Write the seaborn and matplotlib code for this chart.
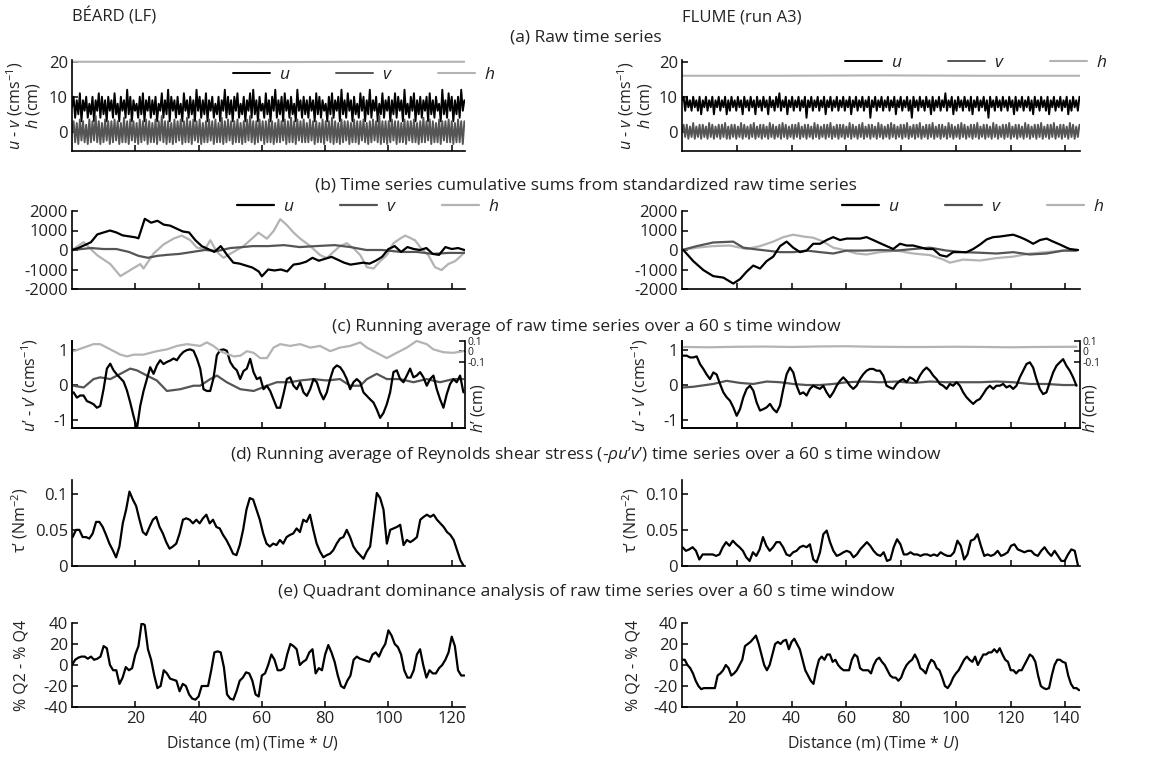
import numpy as np
import matplotlib
matplotlib.use("Agg")
import matplotlib.pyplot as plt
import seaborn as sns

# ---------------------------------------------------------------- data
# (a) raw time series, BÉARD (LF)
u_raw_L = [7,10,4,9,5,11,3,9,6,10,4,8,5,10,3,9,6,11,4,10,5,9,3,10,6,
           9,4,11,5,8,3,10,6,9,4,12,5,10,3,9,6,8,4,10,5,11,3,9,6,10,
           4,9,5,10,3,8,6,11,4,9,5,12,3,10,6,9,4,10,5,8,3,11,6,9,4,
           10,5,9,3,12,6,10,4,9,5,11,3,9,6,10,4,8,5,10,3,9,6,12,4,10,
           5,9,3,10,6,11,4,8,5,10,3,9,6,11,4,12,5,9,3,10,6,8,4,11,5,
           9,3,10,6,12,4,9,5,10,3,11,6,9,4,10,5,8,3,12,6,9,4,10,5,9,
           4,10,6,9,3,11,5,10,4,9,6,8,3,10,5,11,4,9,6,10,3,12,5,9,4,
           11,6,9,3,10,5,8,4,11,6,10,3,9,5,12,4,9,6,10,3,8,5,11,4,9,
           6,10,3,9,5,11,4,10,6,9,3,12,5,8,4,10,6,11,3,9,5,10,4,9,6,
           10,3,11,5,9,4,10,6,8,3,12,5,9,4,11,6,10,3,9,5,10,4,12,6,9]
v_raw_L = [0,3,-3,2.5,-3.5,3.5,-2.5,3,-3,2,-3.5,3.5,-3,3,-2.5,4.5,-3,3,-3.5,2.5,-3,3.5,-2.5,3,-3.5,
           3,-3,3.5,-2.5,3,-3.5,2.5,-3,4,-3,3,-3.5,3.5,-2.5,3,-3,2.5,-3.5,3.5,-3,3,-2.5,3.5,-3.5,3,
           -3,2.5,-3,3.5,-3.5,3,-2.5,4.5,-3,3,-3.5,3,-3,2.5,-3.5,3.5,-3,3,-2.5,3.5,-3.5,3,-3,4,-3,
           3,-3.5,3.5,-2.5,3,-3,3.5,-3.5,2.5,-3,3,-3,3.5,-2.5,3,-3.5,3.5,-3,2.5,-3,4,-3.5,3,-3,3.5,
           -2.5,3,-3.5,3,-3,3.5,-3,2.5,-3.5,3,-3,3.5,-2.5,4.5,-3,3,-3.5,3,-3,3.5,-2.5,3,-3.5,3,-3,
           3.5,-3,3,-3.5,2.5,-3,3.5,-3,3,-2.5,3.5,-3.5,3,-3,4,-3,3,-3.5,3.5,-2.5,3,-3,3.5,-3,2.5,
           -3,3.5,-2.5,3,-3.5,3,-3,2.5,-3,3.5,-3.5,3,-2.5,3,-3,4,-3.5,3,-3,2.5,-3.5,3.5,-3,3,-2.5,
           3,-3.5,2.5,-3,3.5,-3,3,-3.5,3,-2.5,3.5,-3,2.5,-3.5,3,-3,3.5,-2.5,3,-3,4.5,-3.5,3,-3,3,
           -3.5,3,-3,3.5,-2.5,3,-3.5,3,-3,2.5,-3,3.5,-3.5,3,-2.5,3,-3,3.5,-3,2.5,-3.5,3,-3,4,-3,
           3,-2.5,3.5,-3.5,3,-3,2.5,-3,3.5,-3.5,3,-2.5,3,-3,3.5,-3,3,-3.5,2.5,-3,3.5,-3,3,-3.5,3]
h_raw_L = [20.0, 20.0, 19.9, 20.0, 20.0]

# (a) raw time series, FLUME (run A3)
u_raw_R = [9,10,6,10,7,9,6,10,7,9,6,10,5,9,7,10,6,9,7,10,5,9,7,10,6,
           9,7,10,5,9,6,10,7,9,6,10,7,9,5,10,7,9,6,10,7,9,5,10,7,9,
           6,10,7,9,5,10,7,9,6,10,7,11,6,9,7,10,5,9,7,10,6,9,7,10,6,
           9,7,10,4,9,7,10,6,9,7,10,6,9,7,10,5,9,7,10,6,9,7,10,6,9,
           7,10,6,9,7,10,5,9,7,10,6,9,7,10,6,9,7,10,4,9,7,10,6,9,7,
           10,6,9,7,10,6,9,7,10,5,9,7,10,6,9,7,10,6,9,4,10,7,9,6,10,
           7,9,6,10,7,9,5,10,6,9,7,10,6,9,7,11,6,9,7,10,5,9,6,10,7,
           9,6,10,7,9,6,10,5,9,7,10,6,9,7,10,6,9,4,10,7,9,6,10,7,9,
           6,10,7,9,6,10,7,9,5,10,6,9,7,10,6,9,7,10,6,9,5,10,7,9,6,
           10,7,9,6,10,5,9,7,10,6,9,7,10,6,9,7,10,5,9,6,10,7,9,6,10]
v_raw_R = [0,2,-1.5,2,-2,1.5,-1.5,2.5,-2,1.5,-1.5,2,-2,2,-1.5,1.5,-2,2.5,-1.5,2,-2,1.5,-1.5,2,-2,
           2,-1.5,2.5,-2,1.5,-2,2,-1.5,2,-2,1.5,-1.5,2.5,-2,2,-1.5,1.5,-2,2,-1.5,2.5,-2,1.5,-1.5,2,
           -2,2,-1.5,1.5,-2,2.5,-1.5,2,-2,1.5,-1.5,2,-2,2.5,-1.5,2,-2,1.5,-1.5,2,-2,2,-1.5,2.5,-2,
           1.5,-1.5,2,-2,2,-1.5,1.5,-2,2.5,-1.5,2,-2,1.5,-1.5,2,-2,2,-1.5,2.5,-2,1.5,-1.5,2,-2,2,
           -1.5,2,-2,1.5,-1.5,2.5,-2,2,-1.5,1.5,-2,2,-1.5,2.5,-2,1.5,-1.5,2,-2,2,-1.5,1.5,-2,2.5,-1.5,
           2,-2,1.5,-1.5,2,-2,2.5,-1.5,2,-2,1.5,-1.5,2,-2,2,-1.5,2.5,-2,1.5,-1.5,2,-2,2,-1.5,2.5,
           -2,1.5,-1.5,2,-2,2,-1.5,2.5,-2,1.5,-1.5,2,-2,2,-1.5,1.5,-2,2.5,-1.5,2,-2,1.5,-1.5,2,-2,
           2.5,-1.5,2,-2,1.5,-1.5,2,-2,2,-1.5,2.5,-2,1.5,-1.5,2,-2,2,-1.5,1.5,-2,2.5,-1.5,2,-2,1.5,
           -1.5,2,-2,2,-1.5,2.5,-2,1.5,-1.5,2,-2,2,-1.5,1.5,-2,2.5,-1.5,2,-2,1.5,-1.5,2,-2,2,-1.5,
           2.5,-2,1.5,-1.5,2,-2,2,-1.5,2.5,-2,1.5,-1.5,2,-2,2,-1.5,1.5,-2,2.5,-1.5,2,-2,1.5,-1.5,2]
h_raw_R = [16.0, 16.0, 16.1, 16.0, 16.0]

# (b) cumulative sums, BÉARD
ub_L_x = [0,2,4,6,8,10,12,14,16,18,20,21,22,23,25,27,29,31,33,35,37,39,41,43,45,47,49,51,53,55,57,59,60,62,64,66,68,70,72,74,76,78,80,82,84,86,88,90,92,94,96,98,100,102,104,106,108,110,112,114,116,118,120,122,124]
ub_L_y = [0,100,250,400,800,900,1000,900,750,700,650,600,1100,1600,1400,1500,1300,1250,1100,950,900,500,200,50,-100,200,-250,-650,-700,-800,-900,-1100,-1350,-1000,-1050,-1000,-1100,-750,-700,-600,-400,-550,-450,-350,-500,-650,-750,-700,-650,-700,-550,-350,50,200,-100,150,50,0,100,-200,-250,150,50,100,0]
vb_L_x = [0,3,6,10,14,18,21,24,27,30,34,38,42,46,50,54,57,62,67,72,77,83,88,93,98,104,109,114,119,124]
vb_L_y = [0,50,100,50,50,-100,-300,-400,-300,-250,-200,-100,0,-50,100,150,200,200,250,150,200,250,150,0,0,-100,-100,-200,-150,-150]
hb_L_x = [0,3.7,7.9,12.1,15.3,18.4,21.6,22.6,25.8,28.9,32.1,34.7,37.4,39.5,42.1,43.7,45.8,47.9,51,54.2,57.4,58.9,61.6,63.7,65.8,67.9,70,72.1,75.3,78.4,80.5,82.6,84.7,86.8,88.9,91.1,93.2,95.3,97.4,99.5,101.6,103.7,105.3,108.4,110.5,112.6,114.7,116.8,118.9,121.1,123.2,124]
hb_L_y = [0,400,-260,-720,-1340,-1030,-720,-950,-180,280,585,740,500,120,50,500,-100,-400,-100,200,660,890,580,970,1580,1280,900,585,200,-260,-415,-100,200,350,100,-260,-880,-950,-570,-260,350,585,740,500,50,-260,-880,-1030,-720,-570,-260,-100]

# (b) cumulative sums, FLUME
ub_R_x = [0.5,4.1,7.8,11.4,15.1,18.7,21.2,23.6,26,28.5,30.9,33.3,35.8,38.2,40.6,43.1,45.5,47.9,50.4,52.8,55.2,57.7,60.1,62.5,65,67.4,69.8,72.3,74.7,77.1,79.6,82,84.4,89.3,91.7,94.2,96.6,99,101.5,103.9,106.3,108.8,111.2,113.6,116.1,118.5,120.9,123.4,125.8,128.2,130.7,133.1,135.5,138,140.4,141.6,144.6]
ub_R_y = [0,-570,-1030,-1340,-1415,-1720,-1490,-1110,-800,-950,-570,-340,200,430,120,-110,-30,320,320,510,660,510,585,585,585,660,510,350,200,50,320,230,230,50,50,-260,-340,-110,-110,-110,50,280,540,660,690,740,785,660,510,320,510,585,430,280,120,50,0]
vb_R_x = [0,5.4,11.4,18.7,22.4,26,30.9,35.8,40.6,45.5,50.4,55.2,60.1,66.2,72.3,78.3,84.4,90.5,96.6,102.7,108.8,114.8,120.9,127,133.1,139.2,144]
vb_R_y = [0,200,385,430,120,50,-30,-110,-110,-30,-110,-180,-30,-30,0,-30,50,120,-30,-110,-140,-180,-110,-230,-180,-30,-30]
hb_R_x = [0,5.4,11.4,17.5,23.6,28.5,33.3,37,40.6,44.3,47.9,51.6,55.2,60.1,63.7,67.4,72.3,78.3,84.4,90.5,95.4,97.8,102.7,108.8,114.8,120.9,127,133.1,139.2,144]
hb_R_y = [0,120,200,230,50,200,430,660,785,690,630,430,120,-30,-180,-230,-110,-30,-180,-260,-490,-650,-490,-540,-415,-340,-180,-110,-30,-30]

# (c) running averages, BÉARD  (u', v' left axis; h' right axis)
uc_L = [-0.21,-0.36,-0.3,-0.3,-0.46,-0.5,-0.55,-0.65,-0.6,-0.12,0.47,0.61,0.42,0.3,0.2,0.1,-0.15,-0.5,-0.89,-1.26,
        -0.6,-0.17,0.17,0.51,0.32,0.56,0.71,0.6,0.66,0.7,0.76,0.71,0.85,0.95,1.0,1.02,0.98,0.76,0.47,-0.12,
        -0.17,-0.17,0.2,0.85,1.0,1.02,0.98,0.66,0.51,0.42,0.17,0.4,0.47,0.75,0.37,0.17,0.22,-0.12,-0.02,-0.17,
        -0.41,-0.65,-0.65,-0.26,0.17,0.22,-0.02,-0.12,0.08,-0.21,-0.31,-0.12,0.17,0.08,-0.21,-0.41,-0.21,0.17,0.47,0.56,
        0.51,0.37,0.17,-0.12,0.08,0.17,0.08,-0.21,-0.31,-0.41,-0.5,-0.7,-0.94,-0.8,-0.55,-0.21,0.37,0.42,0.17,0.08,
        0.27,0.47,0.22,0.27,0.37,0.22,-0.02,0.17,0.27,-0.12,-0.41,-0.65,-0.26,0.03,0.17,0.08,0.27,-0.21]
vc_L_x = [0.5,3.7,6.8,8.9,12.1,15.3,18.4,20.5,23.7,26.8,30,34.2,38.4,40.5,43.7,45.8,48.9,53.2,57.4,61.6,64.7,68.9,72.1,76.3,80.5,84.7,87.9,91.1,93.2,96.3,99.5,103.7,107.9,112.1,116.3,120.5,123.7]
vc_L_y = [-0.02,-0.07,0.17,0.22,0.17,0.32,0.47,0.42,0.27,0.13,-0.17,-0.12,-0.02,-0.02,0.17,0.27,0.08,-0.12,-0.17,-0.02,0.08,0.08,0.13,0.17,0.13,0.17,-0.02,-0.02,0.17,0.32,0.17,0.17,0.08,0.17,0.08,0.17,0.17]
hc_L_x = [0.5,3.7,6.8,8.9,12.1,15.3,17.4,19.5,22.6,26.8,30,33.2,36.3,40.5,42.6,44.7,46.8,51.1,53.2,55.3,57.4,59.5,61.6,63.7,65.8,68.9,72.1,75.3,78.4,81.6,84.7,87.9,91.1,93.2,96.3,99.5,102.6,105.8,108.9,112.1,114.2,117.4,120.5,123.7]
hc_L_y = [0.003,0.037,0.07,0.07,0.02,-0.03,-0.047,-0.03,-0.03,0.003,0.02,0.053,0.07,0.053,0.087,0.053,0.003,-0.047,-0.04,0.003,-0.013,-0.063,-0.063,0.037,0.07,0.053,0.07,0.037,0.053,0.003,0.037,0.053,0.087,0.037,-0.013,-0.063,-0.013,0.037,0.1,0.07,0.02,-0.007,-0.013,0.003]

# (c) running averages, FLUME
uc_R = [0.84,0.84,0.79,0.79,0.82,0.6,0.46,0.3,0.17,0.36,0.3,0.03,-0.21,-0.35,-0.45,-0.64,-0.88,-0.69,-0.35,-0.11,
        -0.02,-0.16,-0.5,-0.73,-0.69,-0.64,-0.54,-0.69,-0.78,-0.59,-0.11,0.31,0.5,0.36,-0.02,-0.26,-0.21,-0.3,-0.11,-0.02,
        -0.07,-0.11,-0.02,-0.21,-0.35,-0.21,-0.02,0.12,0.22,0.12,-0.02,-0.11,-0.02,0.17,0.31,0.41,0.46,0.46,0.41,0.41,
        0.27,-0.02,-0.07,-0.11,0.03,0.12,0.17,0.08,0.22,0.17,0.08,0.27,0.41,0.5,0.41,0.27,0.17,0.03,-0.02,-0.11,
        0.03,-0.02,0.08,-0.02,-0.21,-0.35,-0.45,-0.54,-0.45,-0.4,-0.26,-0.11,-0.02,-0.11,-0.02,-0.02,0.03,-0.07,-0.02,-0.11,
        -0.02,0.22,0.41,0.6,0.65,0.5,0.17,-0.11,-0.26,-0.21,0.08,0.36,0.55,0.65,0.74,0.55,0.41,0.22,-0.02]
vc_R_x = [0.5,4.1,11.4,16.3,21.2,26,30.9,35.8,40.6,45.5,50.4,55.2,60.1,66.2,72.3,78.3,84.4,90.5,96.6,102.7,108.8,114.8,120.9,127,133.1,139.2,144]
vc_R_y = [-0.07,-0.05,0.03,0.12,0.06,0.03,0.1,0.08,0.03,0,0,0.03,0.08,0.1,0.08,0.1,0.06,0.1,0.08,0.08,0.08,0.1,0.08,0.03,0.03,0,0]
hc_R_x = [0.5,10,20,30,40,50,60,70,80,90,100,110,120,130,144]
hc_R_y = [0.043,0.04,0.045,0.047,0.043,0.048,0.05,0.045,0.043,0.043,0.045,0.043,0.04,0.043,0.045]

# (d) Reynolds shear stress running average
tau_L = [0.040,0.050,0.050,0.040,0.040,0.038,0.045,0.061,0.061,0.054,0.043,0.031,0.022,0.012,0.027,0.059,0.078,0.103,0.092,0.083,
         0.064,0.047,0.043,0.054,0.064,0.068,0.054,0.045,0.033,0.024,0.027,0.031,0.045,0.064,0.066,0.064,0.059,0.064,0.059,0.066,
         0.071,0.059,0.064,0.054,0.052,0.043,0.036,0.027,0.017,0.015,0.029,0.050,0.078,0.094,0.092,0.078,0.064,0.045,0.031,0.027,
         0.031,0.029,0.036,0.031,0.040,0.043,0.045,0.052,0.047,0.064,0.061,0.071,0.050,0.031,0.020,0.012,0.015,0.017,0.022,0.031,
         0.038,0.040,0.050,0.040,0.027,0.020,0.015,0.010,0.020,0.027,0.064,0.101,0.094,0.078,0.031,0.050,0.052,0.054,0.057,0.029,
         0.036,0.033,0.036,0.040,0.064,0.068,0.071,0.068,0.071,0.064,0.059,0.054,0.047,0.043,0.036,0.022,0.008,0.0]
tau_R = [0.026,0.021,0.023,0.026,0.021,0.009,0.016,0.016,0.016,0.016,0.014,0.016,0.026,0.033,0.028,0.035,0.030,0.026,0.021,0.012,
         0.007,0.019,0.014,0.023,0.040,0.028,0.021,0.026,0.033,0.033,0.026,0.016,0.014,0.019,0.021,0.026,0.028,0.026,0.030,0.009,
         0.005,0.019,0.044,0.049,0.033,0.021,0.014,0.016,0.019,0.021,0.019,0.012,0.016,0.023,0.028,0.033,0.028,0.021,0.016,0.014,
         0.019,0.007,0.009,0.026,0.037,0.030,0.016,0.016,0.019,0.016,0.016,0.014,0.016,0.016,0.014,0.016,0.014,0.019,0.016,0.014,
         0.014,0.019,0.035,0.028,0.009,0.016,0.035,0.037,0.044,0.028,0.014,0.016,0.014,0.016,0.021,0.014,0.016,0.019,0.028,0.030,
         0.023,0.021,0.019,0.021,0.021,0.016,0.014,0.021,0.026,0.019,0.014,0.021,0.014,0.007,0.007,0.016,0.023,0.021,0.0]

# (e) quadrant dominance (% Q2 - % Q4), one value per metre
q_L = [0,5,7,8,8,6,8,5,6,8,18,16,0,-5,-5,-18,-12,-2,-5,-3,10,18,40,38,15,5,-10,-22,-20,-5,
       -8,-13,-14,-15,-25,-18,-20,-28,-32,-33,-30,-20,-20,-20,-5,12,13,12,-2,-28,-32,-33,-25,-15,-12,-7,-8,-15,-28,-30,
       -10,-8,0,10,5,-5,-5,-3,10,20,18,15,0,3,5,12,15,-8,-3,-5,10,19,12,3,-10,-20,-22,-15,-10,5,
       8,6,5,4,3,10,12,8,15,20,33,28,20,17,10,-5,-12,-12,-5,10,15,0,-12,-5,-8,-8,-3,0,5,12,
       27,18,-5,-10,-10]
q_R = [5,5,0,-3,-8,-15,-20,-23,-22,-22,-22,-22,-22,-10,-8,-5,0,-3,-10,-8,-5,0,5,18,20,22,25,28,20,10,
       0,-5,0,10,20,22,20,23,24,15,22,25,20,15,5,-5,-10,-15,-18,-5,5,8,5,10,10,3,5,0,-3,-5,
       -5,-5,5,10,8,-3,-5,-5,-5,-8,0,5,7,3,0,-5,-10,-12,-12,-15,-12,-5,0,3,5,10,5,-3,-5,-8,
       0,5,3,-3,-5,-12,-20,-22,-18,-12,-8,-5,0,5,8,5,3,8,0,5,10,10,12,12,15,12,16,10,5,3,
       -5,-5,-8,-5,-5,0,5,10,8,3,-10,-20,-22,-23,-22,-10,0,5,5,3,2,-10,-18,-22,-22,-24]

titles = ["(a) Raw time series",
          "(b) Time series cumulative sums from standardized raw time series",
          "(c) Running average of raw time series over a 60 s time window",
          "(d) Running average of Reynolds shear stress (-$\\mathit{\\rho u}$’$\\mathit{v}$’) time series over a 60 s time window",
          "(e) Quadrant dominance analysis of raw time series over a 60 s time window"]
site_names = ["BÉARD (LF)", "FLUME (run A3)"]
x_max = [124.2, 145.3]
x_ticks = [[20, 40, 60, 80, 100, 120], [20, 40, 60, 80, 100, 120, 140]]

# ---------------------------------------------------------------- style
sns.set_theme(style="ticks")
plt.rcParams["font.family"] = ["Open Sans", "DejaVu Sans"]
plt.rcParams["mathtext.fontset"] = "custom"
plt.rcParams["mathtext.rm"] = "Open Sans"
plt.rcParams["mathtext.it"] = "Open Sans:italic"
plt.rcParams["mathtext.bf"] = "Open Sans:bold"
plt.rcParams["axes.unicode_minus"] = False
plt.rcParams["xtick.direction"] = "in"
plt.rcParams["ytick.direction"] = "in"
plt.rcParams["axes.linewidth"] = 1.2
plt.rcParams["axes.edgecolor"] = "black"
plt.rcParams["text.color"] = "#222222"

C_U, C_V, C_H = "#000000", "#555555", "#b3b3b3"
FS_T = 12.5     # titles
FS_K = 12       # tick labels
FS_L = 11.5     # axis labels

W, H = 1173, 758
fig = plt.figure(figsize=(W / 100, H / 100), dpi=100)

COLS = [(72, 465), (682, 1080)]
ROWS = {"a": (60, 151), "b": (211, 289), "c": (341, 428), "d": (480, 566), "e": (623, 707)}


def make_ax(col, row):
    x0, x1 = COLS[col]
    y0, y1 = ROWS[row]
    ax = fig.add_axes([x0 / W, 1 - y1 / H, (x1 - x0) / W, (y1 - y0) / H])
    ax.set_facecolor("none")
    ax.set_xlim(0, x_max[col])
    ax.set_xticks(x_ticks[col])
    ax.tick_params(axis="both", length=4, width=1.1, labelsize=FS_K, colors="black",
                   labelcolor="#222222", pad=3)
    sns.despine(ax=ax)
    ax.grid(False)
    return ax


def line(ax, x, y, color, lw=1.6, label=None, clip=True):
    sns.lineplot(x=np.asarray(x, float), y=np.asarray(y, float), ax=ax, color=color,
                 linewidth=lw, sort=False, estimator=None, label=label, legend=False)
    if not clip:
        ax.lines[-1].set_clip_on(False)


def ftext(xp, yp, s, **kw):
    fig.text(xp / W, 1 - yp / H, s, **kw)


def legend3(ax, xp, yp, order):
    hs, ls = ax.get_legend_handles_labels()
    ax.legend([hs[i] for i in order], [ls[i] for i in order],
              loc="center left", bbox_to_anchor=(xp / W, 1 - yp / H), bbox_transform=fig.transFigure,
              ncol=3, frameon=False, handlelength=2.15, handletextpad=0.5, columnspacing=2.6,
              borderaxespad=0, borderpad=0, fontsize=FS_T)


def ylab(xp, yp, s, size=FS_L):
    ftext(xp, yp, s, rotation=90, ha="center", va="center", fontsize=size)


# headers and titles
ftext(72, 17, site_names[0], ha="left", va="center", fontsize=12)
ftext(682, 17, site_names[1], ha="left", va="center", fontsize=12)
for t, yp in zip(titles, [38, 186, 327, 455, 592]):
    ftext(586, yp, t, ha="center", va="center", fontsize=FS_T)

lab_u = "$\\mathit{u}$"
lab_v = "$\\mathit{v}$"
lab_h = "$\\mathit{h}$"

# ---------------------------------------------------------------- (a)
raw = [(u_raw_L, v_raw_L, h_raw_L), (u_raw_R, v_raw_R, h_raw_R)]
for col in range(2):
    ax = make_ax(col, "a")
    u, v, h = raw[col]
    xe = x_max[col] - 0.2
    line(ax, np.linspace(0, xe, len(h)), h, C_H, lw=1.5, label=lab_h)
    line(ax, np.linspace(0, xe, len(u)), u, C_U, lw=1.4, label=lab_u)
    line(ax, np.linspace(0, xe, len(v)), v, C_V, lw=1.4, label=lab_v)
    ax.set_ylim(-5.5, 20.5)
    ax.set_yticks([0, 10, 20])
    ax.set_xticklabels([])
    legend3(ax, [233, 845][col], [75, 63][col], [1, 2, 0])
ylab(15, 106, "$\\mathit{u}$ - $\\mathit{v}$ (cms$^{-1}$)")
ylab(33, 106, "$\\mathit{h}$ (cm)")
ylab(626, 106, "$\\mathit{u}$ - $\\mathit{v}$ (cms$^{-1}$)")
ylab(645, 106, "$\\mathit{h}$ (cm)")

# ---------------------------------------------------------------- (b)
cum = [((ub_L_x, ub_L_y), (vb_L_x, vb_L_y), (hb_L_x, hb_L_y)),
       ((ub_R_x, ub_R_y), (vb_R_x, vb_R_y), (hb_R_x, hb_R_y))]
for col in range(2):
    ax = make_ax(col, "b")
    (ux, uy), (vx, vy), (hx, hy) = cum[col]
    line(ax, hx, hy, C_H, lw=1.6, label=lab_h)
    line(ax, vx, vy, C_V, lw=1.6, label=lab_v)
    line(ax, ux, uy, C_U, lw=1.6, label=lab_u)
    ax.set_ylim(-2000, 2000)
    ax.set_yticks([-2000, -1000, 0, 1000, 2000])
    ax.set_xticklabels([])
    legend3(ax, [237, 842][col], 207, [2, 1, 0])

# ---------------------------------------------------------------- (c)
runs = [(uc_L, (vc_L_x, vc_L_y), (hc_L_x, hc_L_y)), (uc_R, (vc_R_x, vc_R_y), (hc_R_x, hc_R_y))]
u_end = [123.7, 144.0]
for col in range(2):
    ax = make_ax(col, "c")
    u, (vx, vy), (hx, hy) = runs[col]
    line(ax, vx, vy, C_V, lw=1.6)
    line(ax, np.linspace(0.5, u_end[col], len(u)), u, C_U, lw=1.6)
    ax.set_ylim(-1.23, 1.26)
    ax.set_yticks([-1, 0, 1])
    ax.set_xticklabels([])
    ax2 = ax.twinx()
    ax2.set_facecolor("none")
    line(ax2, hx, hy, C_H, lw=1.6, clip=False)
    ax2.set_ylim(-0.73, 0.1)
    ax2.set_yticks([-0.1, 0, 0.1])
    ax2.set_yticklabels(["-0.1", "0", "0.1"])
    ax2.tick_params(axis="y", length=4, width=1.1, labelsize=7.5, colors="black",
                    labelcolor="#222222", pad=2)
    ax2.spines["top"].set_visible(False)
    ax2.spines["right"].set_linewidth(1.2)
    ax2.grid(False)
ylab(30, 385, "$\\mathit{u}$’ - $\\mathit{v}$’ (cms$^{-1}$)")
ylab(640, 385, "$\\mathit{u}$’ - $\\mathit{v}$’ (cms$^{-1}$)")
ylab(478, 408, "$\\mathit{h}$’ (cm)")
ylab(1090, 408, "$\\mathit{h}$’ (cm)")

# ---------------------------------------------------------------- (d)
taus = [tau_L, tau_R]
tau_end = [123.8, 144.6]
for col in range(2):
    ax = make_ax(col, "d")
    t = taus[col]
    line(ax, np.linspace(0.2, tau_end[col], len(t)), t, C_U, lw=1.6)
    ax.set_ylim(0, 0.119)
    ax.set_yticks([0, 0.05, 0.1])
    ax.set_yticklabels(["0", "0.05", ["0.1", "0.10"][col]])
    ax.set_xticklabels([])
ylab(20, 520, "τ’ (Nm$^{-2}$)")
ylab(631, 520, "τ’ (Nm$^{-2}$)")

# ---------------------------------------------------------------- (e)
qs = [q_L, q_R]
for col in range(2):
    ax = make_ax(col, "e")
    q = qs[col]
    line(ax, np.arange(len(q)), q, C_U, lw=1.6)
    ax.set_ylim(-40, 40)
    ax.set_yticks([-40, -20, 0, 20, 40])
ylab(22, 665, "% Q2 - % Q4")
ylab(633, 665, "% Q2 - % Q4")
ftext(252, 743, "Distance (m) (Time * $\\mathit{U}$)", ha="center", va="center", fontsize=11.5)
ftext(873, 743, "Distance (m) (Time * $\\mathit{U}$)", ha="center", va="center", fontsize=11.5)

fig.savefig("out.png", dpi=100)
